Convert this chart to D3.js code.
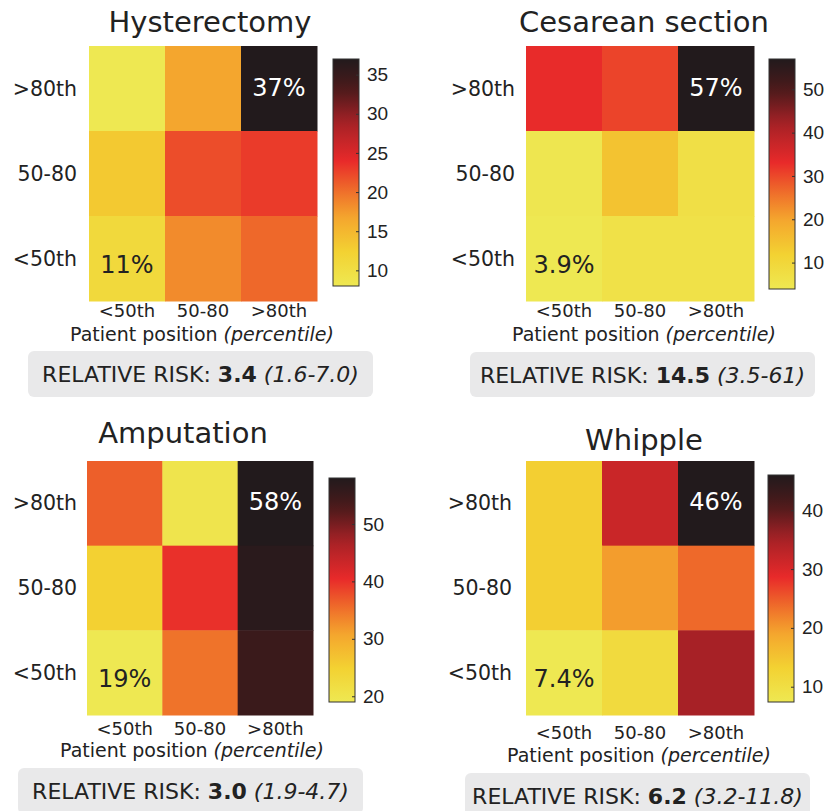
<!DOCTYPE html>
<html>
<head>
<meta charset="utf-8">
<script src="https://cdn.jsdelivr.net/npm/d3@7"></script>
<style>
  body { margin: 0; background: #fff; }
  svg { display: block; font-family: "DejaVu Sans", Verdana, sans-serif; }
</style>
</head>
<body>
<svg id="chart" width="825" height="811"></svg>
<script>
// categories
const cols = ["<50th", "50-80", ">80th"];
const rows = [">80th", "50-80", "<50th"]; // top to bottom

// cell values (%), rows top -> bottom, cols left -> right
const hysterectomy = [[8, 16.7, 37], [13.2, 22, 23], [11, 18.4, 20.5]];
const cesarean = [[33, 30.5, 57], [4.5, 14.5, 7], [3.9, 6.5, 6.5]];
const amputation = [[36.5, 20, 58], [25, 40, 57], [19, 35, 55]];
const whipple = [[13.6, 31.7, 46], [13.6, 19.7, 24], [7.4, 11, 35]];

const titles = ["Hysterectomy", "Cesarean section", "Amputation", "Whipple"];
const tickSteps = [5, 10, 10, 10];
const cornerLabels = [["37%", "11%"], ["57%", "3.9%"], ["58%", "19%"], ["46%", "7.4%"]];
const rr = ["3.4", "14.5", "3.0", "6.2"];
const rrCI = ["(1.6-7.0)", "(3.5-61)", "(1.9-4.7)", "(3.2-11.8)"];

// layout for each panel
const layout = [
  { hx: [89, 317], hy: [46, 301], cx: 333, cy: [59, 286], title: [210, 32], xl: 310, xt: [202, 334], box: [28, 351, 345, 46], yl: 77 },
  { hx: [526, 754], hy: [46, 301], cx: 769, cy: [59, 289], title: [644, 32], xl: 310, xt: [644, 334], box: [470, 352, 345, 45], yl: 515 },
  { hx: [87, 313], hy: [461, 715], cx: 329, cy: [478, 702], title: [183, 443], xl: 728, xt: [192, 750], box: [18, 768, 345, 46], yl: 77 },
  { hx: [526, 754], hy: [461, 715], cx: 768, cy: [475, 702], title: [644, 450], xl: 732, xt: [639, 755], box: [465, 773, 345, 45], yl: 512 }
];

const stops = ["#eee852", "#f3d232", "#f4a62e", "#ef6e2a", "#e82a2a", "#a52126", "#4a1a1b", "#221a1c"];
const stopPos = [0, 0.15, 0.3, 0.42, 0.55, 0.72, 0.87, 1];

const svg = d3.select("#chart");
const defs = svg.append("defs");

[hysterectomy, cesarean, amputation, whipple].forEach((vals, p) => {
  const L = layout[p];
  const flat = vals.flat();
  const dom = d3.extent(flat);

  const norm = d3.scaleLinear().domain(dom).range([0, 1]);
  const ramp = d3.scaleLinear().domain(stopPos).range(stops).interpolate(d3.interpolateRgb);
  const color = v => ramp(norm(v));

  const x = d3.scaleBand().domain(cols).range(L.hx);
  const y = d3.scaleBand().domain(rows).range(L.hy);

  const g = svg.append("g");

  g.append("text")
    .attr("x", L.title[0]).attr("y", L.title[1])
    .attr("text-anchor", "middle")
    .style("font-size", "29px").style("fill", "#222")
    .text(titles[p]);

  const cells = [];
  vals.forEach((r, i) => r.forEach((v, j) => cells.push({ row: rows[i], col: cols[j], v })));

  g.selectAll("rect.cell").data(cells).join("rect")
    .attr("class", "cell")
    .attr("x", d => x(d.col)).attr("y", d => y(d.row))
    .attr("width", x.bandwidth() + 0.5).attr("height", y.bandwidth() + 0.5)
    .attr("fill", d => color(d.v));

  // corner annotations
  const ann = [
    { row: rows[0], col: cols[2], t: cornerLabels[p][0], fill: "#fff", dy: -1 },
    { row: rows[2], col: cols[0], t: cornerLabels[p][1], fill: "#222", dy: 6 }
  ];
  g.selectAll("text.ann").data(ann).join("text")
    .attr("class", "ann")
    .attr("x", d => x(d.col) + x.bandwidth() / 2)
    .attr("y", d => y(d.row) + y.bandwidth() / 2 + d.dy)
    .attr("text-anchor", "middle").attr("dominant-baseline", "central")
    .style("font-size", "24px").style("fill", d => d.fill)
    .text(d => d.t);

  // y labels
  g.selectAll("text.yl").data(rows).join("text")
    .attr("class", "yl")
    .attr("x", L.yl).attr("y", d => y(d) + y.bandwidth() / 2)
    .attr("text-anchor", "end").attr("dominant-baseline", "central")
    .style("font-size", "20.5px").style("fill", "#222")
    .text(d => d);

  // x labels
  g.selectAll("text.xl").data(cols).join("text")
    .attr("class", "xl")
    .attr("x", d => x(d) + x.bandwidth() / 2).attr("y", L.xl)
    .attr("text-anchor", "middle").attr("dominant-baseline", "central")
    .style("font-size", "18px").style("fill", "#222")
    .text(d => d);

  const xt = g.append("text")
    .attr("x", L.xt[0]).attr("y", L.xt[1])
    .attr("text-anchor", "middle").attr("dominant-baseline", "central")
    .style("font-size", "19px").style("fill", "#222");
  xt.append("tspan").text("Patient position ");
  xt.append("tspan").style("font-style", "italic").text("(percentile)");

  // colorbar
  const gid = "grad" + p;
  const grad = defs.append("linearGradient").attr("id", gid)
    .attr("x1", 0).attr("y1", 1).attr("x2", 0).attr("y2", 0);
  d3.range(0, 1.0001, 0.05).forEach(t => {
    grad.append("stop").attr("offset", t).attr("stop-color", ramp(t));
  });
  const cw = 26;
  g.append("rect")
    .attr("x", L.cx).attr("y", L.cy[0])
    .attr("width", cw).attr("height", L.cy[1] - L.cy[0])
    .attr("fill", `url(#${gid})`)
    .attr("stroke", "#333").attr("stroke-width", 1);

  const cs = d3.scaleLinear().domain(dom).range([L.cy[1], L.cy[0]]);
  const step = tickSteps[p];
  const ticks = d3.range(Math.ceil(dom[0] / step) * step, dom[1] + 0.001, step);
  const axis = d3.axisRight(cs).tickValues(ticks).tickSizeInner(-3).tickSizeOuter(0).tickPadding(8);
  const ag = g.append("g").attr("transform", `translate(${L.cx + cw},0)`).call(axis);
  ag.select(".domain").remove();
  ag.selectAll(".tick line").attr("stroke", "#333");
  ag.selectAll(".tick text")
    .style("font-family", "'Liberation Sans', Arial, sans-serif")
    .style("font-size", "19px").style("fill", "#222");

  // relative risk box
  const [bx, by, bw, bh] = L.box;
  g.append("rect")
    .attr("x", bx).attr("y", by).attr("width", bw).attr("height", bh)
    .attr("rx", 6).attr("fill", "#e9e9ea");
  const rt = g.append("text")
    .attr("x", bx + bw / 2).attr("y", by + 23)
    .attr("text-anchor", "middle").attr("dominant-baseline", "central")
    .style("font-size", "22px").style("fill", "#222");
  rt.append("tspan").text("RELATIVE RISK: ");
  rt.append("tspan").style("font-weight", "bold").text(rr[p]);
  rt.append("tspan").style("font-style", "italic").text(" " + rrCI[p]);
});
</script>
</body>
</html>
